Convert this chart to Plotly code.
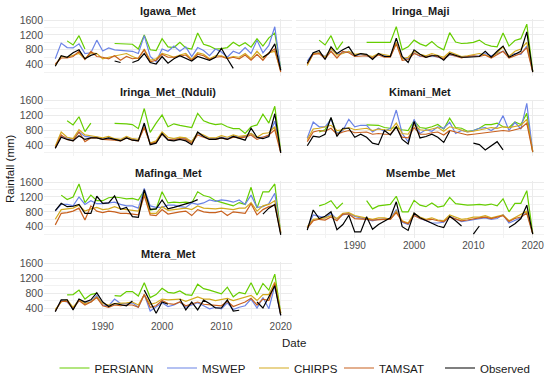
import plotly.graph_objects as go

years = list(range(1982, 2021))

stations = ["Igawa_Met", "Iringa_Maji", "Iringa_Met_(Nduli)", "Kimani_Met",
            "Mafinga_Met", "Msembe_Met", "Mtera_Met"]
products = ["PERSIANN", "MSWEP", "CHIRPS", "TAMSAT", "Observed"]
colors = {"PERSIANN": "#66CD00", "MSWEP": "#6B83E6", "CHIRPS": "#D4AA1E",
          "TAMSAT": "#C8601E", "Observed": "#000000"}

y_ticks = [400, 800, 1200, 1600]
x_ticks = [1990, 2000, 2010, 2020]

# ---- Igawa_Met ----
ig_per = [None, None, 1040, 930, 1180, 820, None, None, None, None,
          970, 970, 960, 950, 820, 1200, 800, 780, 1100, 880,
          860, 1000, 850, 820, 1250, 950, 900, 820, 830, 860,
          1000, 900, 990, 870, 1100, 900, 1120, 1250, 300]
ig_msw = [560, 980, 860, 850, 960, 700, 720, 1060, 770, 850,
          800, 780, 780, 760, 700, 1180, 620, 480, 820, 760,
          900, 760, 880, 620, 860, 780, 640, 820, 740, 600,
          760, 700, 860, 700, 1060, 720, 920, 1420, 250]
ig_chi = [380, 620, 600, 640, 700, 560, 720, 700, 560, 600,
          640, 660, 700, 620, 560, 820, 520, 560, 700, 660,
          600, 660, 700, 540, 720, 680, 560, 640, 640, 580,
          620, 600, 700, 560, 760, 580, 720, 760, 250]
ig_tam = [420, 580, 580, 620, 760, 540, 760, 620, 600, 560,
          640, 520, 620, 560, 580, 800, 480, 520, 680, 600,
          600, 620, 660, 520, 680, 640, 540, 600, 620, 560,
          600, 560, 660, 520, 680, 520, 720, 820, 200]
ig_obs = [360, 640, 600, 720, 800, 560, 650, 700, None, None,
          500, 460, None, 460, 520, 700, 460, 420, 620, 440,
          560, 640, 560, 500, 620, 560, 520, 600, 840, 560,
          300, None, None, None, None, 600, 700, 960, 250]

# ---- Iringa_Maji ----
im_per = [None, None, 1060, 930, 1180, 800, 1020, None, None, None,
          1000, 1000, 1000, 990, 1000, 1420, 800, 880, 1060, 960,
          900, 1020, 880, 800, 1260, 1010, 970, 980, 1000, 1060,
          950, 900, 880, 1250, 900, 1050, 1100, 1490, 220]
im_msw = [500, 720, 720, 620, 820, 680, 720, 760, 640, 680,
          640, 600, 680, 640, 620, 1000, 580, 560, 720, 620,
          620, 640, 600, 560, 660, 620, 600, 620, 640, 640,
          700, 640, 700, 760, 640, 700, 680, 900, 230]
im_chi = [380, 700, 720, 600, 840, 660, 700, 760, 680, 700,
          660, 620, 700, 660, 640, 1000, 560, 600, 760, 680,
          640, 700, 640, 600, 740, 680, 620, 640, 680, 700,
          660, 600, 720, 880, 620, 760, 820, 1000, 230]
im_tam = [420, 680, 700, 560, 760, 580, 760, 720, 620, 640,
          640, 580, 660, 600, 600, 960, 520, 540, 700, 640,
          600, 660, 620, 560, 680, 620, 580, 620, 640, 620,
          660, 580, 680, 760, 580, 640, 700, 860, 200]
im_obs = [440, 720, 780, 540, 880, 700, 800, 880, 640, 700,
          680, 540, 700, 620, 620, 1110, 620, 460, 800, 680,
          600, 640, 640, 520, 700, 640, 600, 600, 620, 620,
          760, 600, 760, 900, 600, 680, 760, 1280, 200]

# ---- Iringa_Met_(Nduli) ----
nd_per = [None, None, 1060, 950, 1170, 770, 1000, None, None, None,
          990, 990, 980, 960, 850, 1390, 750, 1000, 1220, 900,
          980, 940, 900, 880, 1260, 1060, 1000, 960, 980, 900,
          850, 850, 720, 900, 950, 1240, 1000, 1450, 250]
nd_msw = [360, 640, 600, 560, 760, 640, 620, 620, 560, 580,
          560, 540, 620, 560, 540, 940, 460, 480, 700, 560,
          560, 600, 580, 500, 720, 640, 580, 580, 620, 580,
          660, 620, 640, 720, 600, 620, 660, 1050, 220]
nd_chi = [380, 760, 620, 580, 820, 680, 660, 640, 600, 640,
          580, 560, 640, 580, 560, 900, 460, 520, 760, 620,
          580, 620, 600, 500, 740, 680, 600, 600, 660, 620,
          680, 640, 660, 720, 620, 720, 740, 900, 250]
nd_tam = [340, 680, 560, 520, 760, 500, 600, 600, 560, 560,
          540, 520, 600, 540, 520, 880, 440, 480, 700, 560,
          540, 580, 560, 460, 680, 620, 560, 560, 600, 560,
          620, 600, 620, 680, 560, 620, 680, 820, 200]
nd_obs = [320, 620, 560, 520, 660, 560, 600, 600, 560, 600,
          560, 520, 600, 540, 520, 1000, 420, 460, 720, 540,
          520, 560, 520, 420, 760, 640, 560, 560, 600, 560,
          640, 600, 540, 860, 620, 580, 640, 1250, 200]

# ---- Kimani_Met ----
ki_per = [None, None, 760, 820, 1130, 720, 820, None, None, None,
          950, 950, 940, 880, 860, 880, 820, 800, 1060, 880,
          860, 900, 960, 840, 1130, 880, 860, 780, 800, 860,
          960, 960, 1000, 900, 880, 1030, 960, 1260, 220]
ki_msw = [600, 1030, 900, 900, 1100, 720, 800, 1100, 900, 940,
          940, 760, 860, 780, 860, 1350, 720, 500, 1100, 720,
          820, 780, 900, 860, 1020, 720, 800, 760, 800, 860,
          880, 800, 900, 1200, 800, 1020, 840, 1530, 230]
ki_chi = [560, 840, 860, 900, 940, 800, 820, 880, 820, 840,
          860, 800, 840, 820, 800, 1000, 720, 700, 960, 820,
          800, 840, 880, 780, 900, 860, 800, 760, 780, 820,
          860, 880, 860, 900, 880, 920, 940, 1100, 250]
ki_tam = [500, 760, 800, 780, 860, 700, 760, 800, 740, 740,
          760, 700, 720, 700, 700, 900, 620, 600, 880, 700,
          700, 740, 760, 680, 800, 760, 720, 680, 700, 720,
          740, 760, 760, 800, 780, 820, 860, 1000, 220]
ki_obs = [390, 650, 620, 700, 1150, 640, 860, 860, 620, 700,
          620, 460, 420, 800, 680, 900, 560, 440, 1040, 600,
          640, 700, 620, 480, 780, None, None, None, 460, 420,
          280, 400, 500, 280, None, None, None, None, None]

# ---- Mafinga_Met ----
ma_per = [None, 1250, 1130, 1200, 1550, 1050, 1250, 1100, 1100, 1180,
          1200, 1180, 1150, 1160, 1120, 1370, 850, 880, 1340, 1040,
          1060, 1050, 1060, 1040, 1340, 1240, 1200, 1100, 1060, 1000,
          960, 1050, 1000, 1460, 900, 1340, 1340, 1550, 220]
ma_msw = [820, 1000, 1000, 960, 1200, 1000, 1100, 1020, 1020, 1040,
          1060, 1000, 960, 960, 900, 1430, 960, 920, 920, 980,
          980, 940, 920, 1040, 1000, 1040, 1120, 1080, 1120, 1100,
          1060, 1120, 1000, 1250, 920, 940, 1020, 1300, 220]
ma_chi = [600, 860, 880, 900, 980, 820, 880, 920, 860, 880,
          940, 880, 860, 840, 820, 1300, 760, 760, 940, 840,
          860, 880, 900, 860, 960, 900, 880, 880, 900, 880,
          860, 900, 900, 1050, 820, 960, 1000, 1100, 260]
ma_tam = [450, 760, 780, 820, 900, 580, 960, 820, 780, 820,
          800, 760, 760, 740, 720, 1240, 720, 700, 860, 740,
          780, 800, 820, 700, 860, 800, 780, 780, 820, 700,
          800, 780, 760, 1020, 720, 860, 940, 980, 220]
ma_obs = [830, 1030, 940, 950, 1000, 760, 760, 1220, 1030, 1040,
          1230, 870, 920, 670, 650, 1400, 870, 880, 1120, 880,
          920, 960, 1000, 1060, 1130, None, None, None, None, None,
          None, None, None, None, None, 740, 900, 1000, 180]

# ---- Msembe_Met ----
ms_per = [None, None, 960, 1010, 1100, 890, 1040, None, None, None,
          1100, 880, 960, 980, 1000, 1220, 800, 800, 1110, 980,
          940, 1040, 930, 960, 1190, 1020, 990, 980, 990, 1000,
          980, 1010, 960, 1150, 800, 1030, 1030, 1370, 220]
ms_msw = [360, 720, 680, 640, 760, 600, 720, 760, 680, 640,
          620, 560, 600, 600, 620, 860, 520, 460, 720, 620,
          560, 500, 500, 520, 680, 600, 540, 560, 600, 620,
          640, 600, 620, 720, 500, 560, 640, 800, 220]
ms_chi = [400, 600, 620, 640, 700, 620, 760, 780, 700, 660,
          640, 600, 640, 640, 600, 820, 560, 500, 760, 660,
          600, 640, 580, 560, 720, 660, 600, 620, 660, 660,
          700, 640, 680, 720, 560, 640, 720, 820, 240]
ms_tam = [360, 560, 600, 580, 660, 560, 740, 740, 620, 600,
          600, 580, 600, 600, 600, 780, 540, 480, 700, 620,
          580, 600, 560, 540, 660, 620, 560, 580, 620, 640,
          660, 620, 660, 700, 540, 620, 660, 760, 200]
ms_obs = [310, 850, 620, 680, 800, 320, 460, 710, 260, 260,
          670, 330, 460, 560, 640, 1070, 400, 300, 770, 640,
          560, 500, 420, 380, 680, 560, 420, None, 200, 420,
          None, None, None, None, 380, 480, 620, 980, 200]

# ---- Mtera_Met ----
mt_per = [None, None, 750, 760, 880, 640, 760, 800, None, None,
          730, 720, 840, 840, 720, 1080, 680, 760, 930, 820,
          800, 860, 760, 740, 1040, 920, 880, 840, 780, 960,
          700, 820, 780, 1080, 750, 1060, 880, 1310, 260]
mt_msw = [320, 600, 560, 400, 600, 560, 560, 740, 480, 460,
          640, 520, 520, 540, 420, 760, 320, 420, 540, 440,
          480, 560, 420, 480, 540, 460, 380, 420, 380, 540,
          360, 420, 460, 640, 400, 680, 380, 1000, 200]
mt_chi = [360, 560, 620, 420, 620, 520, 560, 700, 520, 480,
          520, 520, 540, 560, 480, 760, 500, 540, 640, 620,
          620, 640, 580, 640, 700, 640, 640, 600, 640, 660,
          600, 640, 700, 740, 600, 760, 760, 1100, 260]
mt_tam = [320, 580, 580, 380, 600, 480, 560, 680, 460, 420,
          480, 460, 480, 480, 420, 760, 420, 460, 600, 520,
          500, 560, 460, 500, 560, 500, 480, 480, 460, 580,
          440, 500, 560, 660, 480, 640, 600, 1060, 220]
mt_obs = [300, 620, 620, 350, 640, 560, 620, 810, 560, 440,
          520, 480, 460, 590, None, 880, 560, 260, 560, 500,
          None, 640, 350, 560, 350, 610, 520, 400, 400, 620,
          320, 340, None, None, 560, 400, 700, 1000, 200]

data = {
    "Igawa_Met": [ig_per, ig_msw, ig_chi, ig_tam, ig_obs],
    "Iringa_Maji": [im_per, im_msw, im_chi, im_tam, im_obs],
    "Iringa_Met_(Nduli)": [nd_per, nd_msw, nd_chi, nd_tam, nd_obs],
    "Kimani_Met": [ki_per, ki_msw, ki_chi, ki_tam, ki_obs],
    "Mafinga_Met": [ma_per, ma_msw, ma_chi, ma_tam, ma_obs],
    "Msembe_Met": [ms_per, ms_msw, ms_chi, ms_tam, ms_obs],
    "Mtera_Met": [mt_per, mt_msw, mt_chi, mt_tam, mt_obs],
}

W, H = 550, 377
FONT = "Liberation Sans, Arial, sans-serif"
col_px = [(44, 292), (296, 544)]
row_px = [(18.9, 75.5), (99.6, 156.2), (181.0, 237.5), (262.2, 318.8)]
legend_x_px = [54.5, 162, 254, 339, 440]
legend_names = ["legend", "legend2", "legend3", "legend4", "legend5"]

fig = go.Figure()
annotations = []
layout_axes = {}

for i, st in enumerate(stations):
    r, c = divmod(i, 2)
    sfx = "" if i == 0 else str(i + 1)
    x0, x1 = col_px[c]
    y0, y1 = row_px[r]
    for k, (p, vals) in enumerate(zip(products, data[st])):
        fig.add_trace(go.Scatter(
            x=years, y=vals, mode="lines", name=p, legendgroup=p,
            legend=legend_names[k],
            showlegend=(i == 0), connectgaps=False,
            line=dict(color=colors[p], width=1.2),
            xaxis="x" + sfx, yaxis="y" + sfx, hoverinfo="skip"))
    show_x = (st in ("Msembe_Met", "Mtera_Met"))
    show_y = (c == 0)
    layout_axes["xaxis" + sfx] = dict(
        domain=[x0 / W, x1 / W], anchor="y" + sfx, range=[1980.1, 2021.9],
        tickmode="array", tickvals=x_ticks, showticklabels=show_x,
        showgrid=True, gridcolor="#EBEBEB", gridwidth=1,
        minor=dict(tickmode="array", tickvals=[1985, 1995, 2005, 2015],
                   showgrid=True, gridcolor="#F2F2F2", gridwidth=0.6),
        zeroline=False, showline=False, ticks="",
        tickfont=dict(family=FONT, size=10, color="#4D4D4D"),
    )
    layout_axes["yaxis" + sfx] = dict(
        domain=[1 - y1 / H, 1 - y0 / H], anchor="x" + sfx, range=[110, 1630],
        tickmode="array", tickvals=y_ticks, showticklabels=show_y,
        showgrid=True, gridcolor="#EBEBEB", gridwidth=1,
        minor=dict(tickmode="array", tickvals=[200, 600, 1000, 1400],
                   showgrid=True, gridcolor="#F2F2F2", gridwidth=0.6),
        zeroline=False, showline=False, ticks="",
        tickfont=dict(family=FONT, size=10.5, color="#4D4D4D"),
    )
    annotations.append(dict(
        text="<b>%s</b>" % st, xref="paper", yref="paper",
        x=(x0 + x1) / 2 / W, y=1 - (y0 - 7.7) / H,
        xanchor="center", yanchor="middle", showarrow=False,
        font=dict(family=FONT, size=11, color="#1A1A1A")))

annotations.append(dict(
    text="Rainfall (mm)", xref="paper", yref="paper", x=10 / W, y=1 - 169 / H,
    xanchor="center", yanchor="middle", textangle=-90, showarrow=False,
    font=dict(family=FONT, size=11.5, color="#1A1A1A")))
annotations.append(dict(
    text="Date", xref="paper", yref="paper", x=294 / W, y=1 - 343 / H,
    xanchor="center", yanchor="middle", showarrow=False,
    font=dict(family=FONT, size=11.5, color="#1A1A1A")))

legends = {}
for name, lx in zip(legend_names, legend_x_px):
    legends[name] = dict(orientation="h", x=lx / W, xanchor="left",
                         y=1 - 368 / H, yanchor="middle",
                         font=dict(family=FONT, size=11.5, color="#1A1A1A"),
                         bgcolor="rgba(0,0,0,0)")

fig.update_layout(
    width=W, height=H, margin=dict(l=0, r=0, t=0, b=0, autoexpand=False),
    paper_bgcolor="white", plot_bgcolor="white",
    annotations=annotations,
    **legends,
    **layout_axes,
)

fig.write_html("out.html", config={"displayModeBar": False},
               post_script="document.body.style.margin='0';document.body.style.overflow='hidden';")
